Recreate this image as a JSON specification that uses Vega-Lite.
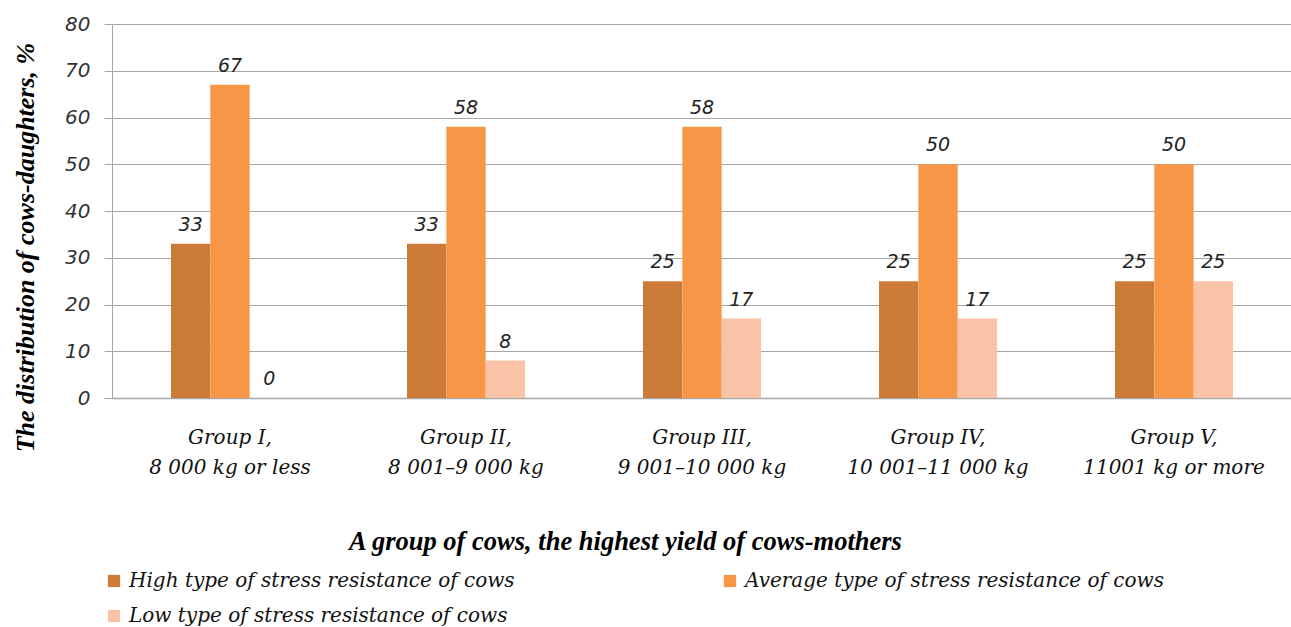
{
  "$schema": "https://vega.github.io/schema/vega-lite/v6.json",
  "width": 1180,
  "height": 374,
  "autosize": {"type": "none"},
  "padding": {"left": 112, "top": 24, "right": 0, "bottom": 229},
  "background": "white",
  "config": {"view": {"stroke": null}},
  "data": {
    "values": [
      {"group": "Group I,|8 000 kg or less", "type": "High type of stress resistance of cows", "value": 33},
      {"group": "Group I,|8 000 kg or less", "type": "Average type of stress resistance of cows", "value": 67},
      {"group": "Group I,|8 000 kg or less", "type": "Low type of stress resistance of cows", "value": 0},
      {"group": "Group II,|8 001–9 000 kg", "type": "High type of stress resistance of cows", "value": 33},
      {"group": "Group II,|8 001–9 000 kg", "type": "Average type of stress resistance of cows", "value": 58},
      {"group": "Group II,|8 001–9 000 kg", "type": "Low type of stress resistance of cows", "value": 8},
      {"group": "Group III,|9 001–10 000 kg", "type": "High type of stress resistance of cows", "value": 25},
      {"group": "Group III,|9 001–10 000 kg", "type": "Average type of stress resistance of cows", "value": 58},
      {"group": "Group III,|9 001–10 000 kg", "type": "Low type of stress resistance of cows", "value": 17},
      {"group": "Group IV,|10 001–11 000 kg", "type": "High type of stress resistance of cows", "value": 25},
      {"group": "Group IV,|10 001–11 000 kg", "type": "Average type of stress resistance of cows", "value": 50},
      {"group": "Group IV,|10 001–11 000 kg", "type": "Low type of stress resistance of cows", "value": 17},
      {"group": "Group V,|11001 kg or more", "type": "High type of stress resistance of cows", "value": 25},
      {"group": "Group V,|11001 kg or more", "type": "Average type of stress resistance of cows", "value": 50},
      {"group": "Group V,|11001 kg or more", "type": "Low type of stress resistance of cows", "value": 25}
    ]
  },
  "encoding": {
    "x": {
      "field": "group",
      "type": "nominal",
      "sort": null,
      "scale": {"paddingInner": 0.5, "paddingOuter": 0.25},
      "axis": {
        "title": "A group of cows, the highest yield of cows-mothers",
        "titleFont": "Liberation Serif",
        "titleFontStyle": "italic",
        "titleFontWeight": "bold",
        "titleFontSize": 26.5,
        "titleColor": "#000",
        "titleX": 513,
        "titleY": 143,
        "titleBaseline": "middle",
        "titleAnchor": null,
        "titleAlign": "center",
        "labelExpr": "split(datum.label, '|')",
        "labelAngle": 0,
        "labelFont": "DejaVu Serif",
        "labelFontStyle": "italic",
        "labelFontSize": 20,
        "labelColor": "#111",
        "labelLineHeight": 30,
        "labelBaseline": "top",
        "labelPadding": 29,
        "labelLimit": 400,
        "ticks": false,
        "domain": true,
        "domainColor": "#a6a6a6",
        "domainWidth": 1.5
      }
    },
    "xOffset": {
      "field": "type",
      "type": "nominal",
      "sort": ["High type of stress resistance of cows", "Average type of stress resistance of cows", "Low type of stress resistance of cows"],
      "scale": {"paddingInner": 0, "paddingOuter": 0}
    },
    "y": {
      "field": "value",
      "type": "quantitative",
      "scale": {"domain": [0, 80]},
      "axis": {
        "title": "The distribution of cows-daughters, %",
        "titleFont": "Liberation Serif",
        "titleFontStyle": "italic",
        "titleFontWeight": "bold",
        "titleFontSize": 26,
        "titleColor": "#000",
        "titleX": -87,
        "titleY": 223,
        "titleAngle": -90,
        "titleAlign": "center",
        "titleBaseline": "middle",
        "titleAnchor": null,
        "values": [0, 10, 20, 30, 40, 50, 60, 70, 80],
        "labelFont": "DejaVu Sans",
        "labelFontStyle": "italic",
        "labelFontSize": 20,
        "labelColor": "#333",
        "labelPadding": 14,
        "tickSize": 8,
        "tickColor": "#a6a6a6",
        "domainColor": "#a6a6a6",
        "gridColor": "#a6a6a6",
        "gridWidth": 1.2,
        "grid": true
      }
    }
  },
  "layer": [
    {
      "mark": {"type": "bar"},
      "encoding": {
        "color": {
          "field": "type",
          "type": "nominal",
          "sort": ["High type of stress resistance of cows", "Average type of stress resistance of cows", "Low type of stress resistance of cows"],
          "scale": {"range": ["#cd7b38", "#f79646", "#f9c3a7"]},
          "legend": {
            "title": null,
            "orient": "none",
            "direction": "horizontal",
            "legendX": -8,
            "legendY": 547,
            "columns": 2,
            "columnPadding": 205,
            "rowPadding": 15,
            "symbolType": "square",
            "symbolSize": 150,
            "symbolStrokeWidth": 0,
            "labelFont": "DejaVu Serif",
            "labelFontStyle": "italic",
            "labelFontSize": 20,
            "labelColor": "#111",
            "labelOffset": 5,
            "labelLimit": 600
          }
        }
      }
    },
    {
      "mark": {
        "type": "text",
        "baseline": "alphabetic",
        "dy": -13,
        "font": "DejaVu Sans",
        "fontStyle": "italic",
        "fontSize": 19,
        "color": "#222"
      },
      "encoding": {
        "text": {"field": "value", "type": "quantitative"}
      }
    }
  ]
}
